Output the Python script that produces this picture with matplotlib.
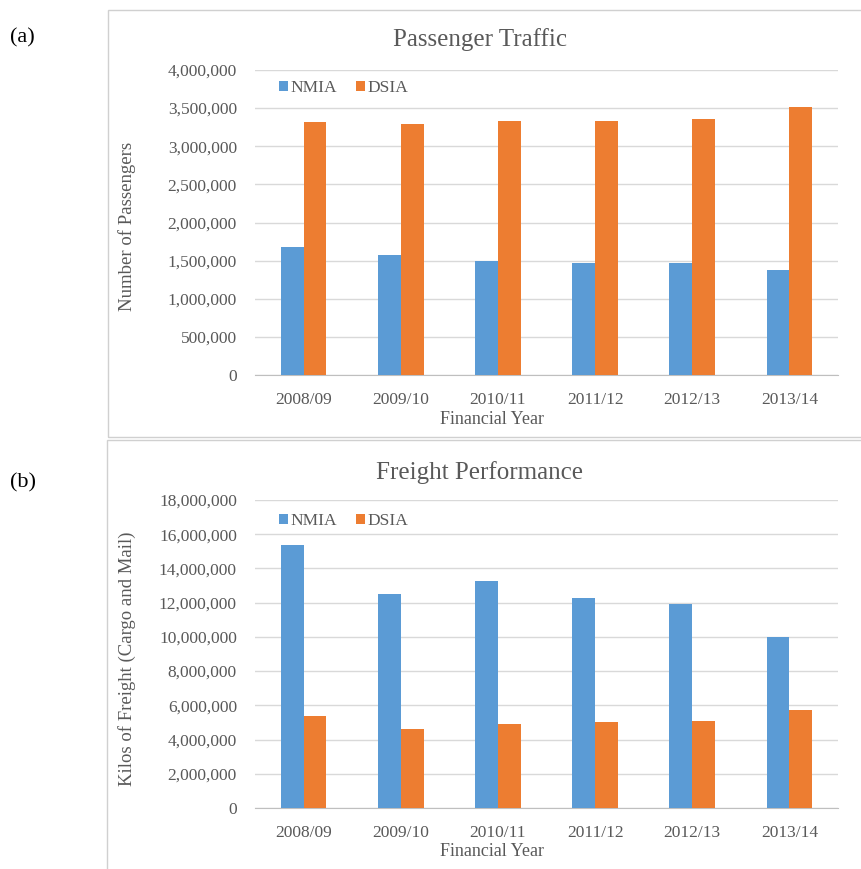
import numpy as np
import matplotlib
matplotlib.use("Agg")
import matplotlib.pyplot as plt
from matplotlib.patches import Rectangle
from matplotlib.ticker import FuncFormatter

# data
years = ["2008/09", "2009/10", "2010/11", "2011/12", "2012/13", "2013/14"]
series = ["NMIA", "DSIA"]
pax_nmia = [1685000, 1572000, 1498000, 1468000, 1468000, 1372000]
pax_dsia = [3314000, 3288000, 3336000, 3336000, 3353000, 3518000]
frt_nmia = [15390000, 12480000, 13260000, 12270000, 11930000, 10020000]
frt_dsia = [5360000, 4600000, 4880000, 5030000, 5110000, 5730000]

BLUE = "#5B9BD5"
ORANGE = "#ED7D31"
TXT = "#595959"
GRID = "#D9D9D9"

plt.rcParams['font.family'] = ['Liberation Serif', 'DejaVu Serif']

W, H = 862, 869
fig = plt.figure(figsize=(W / 100, H / 100), dpi=100)

def fx(px):
    return px / W

def fy(py):
    return 1 - py / H

# panel frames (right edge runs off the picture)
fig.patches.append(Rectangle((fx(108), fy(437)), fx(800), fy(10) - fy(437),
                             transform=fig.transFigure, fill=False,
                             edgecolor="#D0D0D0", lw=1.0))
fig.patches.append(Rectangle((fx(107), fy(880)), fx(800), fy(440) - fy(880),
                             transform=fig.transFigure, fill=False,
                             edgecolor="#D0D0D0", lw=1.0))

def panel(rect, nmia, dsia, ymax, ystep, title, ylabel, title_y, xl_y, leg_y, tag, tag_y):
    ax = fig.add_axes(rect)
    x = np.arange(len(years))
    w = 0.235
    ax.bar(x - w / 2, nmia, w, color=BLUE, label=series[0], zorder=3)
    ax.bar(x + w / 2, dsia, w, color=ORANGE, label=series[1], zorder=3)
    ax.set_xlim(-0.5, len(years) - 0.5)
    ax.set_ylim(0, ymax)
    ax.set_yticks(np.arange(0, ymax + 1, ystep))
    ax.yaxis.set_major_formatter(FuncFormatter(lambda v, p: f"{int(v):,}"))
    ax.set_xticks(x)
    ax.set_xticklabels(years)
    ax.grid(axis="y", color=GRID, lw=1.0, zorder=0)
    for s in ["top", "right", "left"]:
        ax.spines[s].set_visible(False)
    ax.spines["bottom"].set_color("#BFBFBF")
    ax.tick_params(axis="both", length=0, labelsize=12.5, colors=TXT, pad=13)
    ax.tick_params(axis="x", pad=12)
    fig.text(fx(480), fy(title_y), title, ha="center", va="center",
             fontsize=18, color=TXT)
    fig.text(fx(127), rect[1] + rect[3] / 2 - 0.005, ylabel, rotation=90,
             ha="center", va="center", fontsize=13.5, color=TXT)
    fig.text(fx(492), fy(xl_y), "Financial Year", ha="center", va="center",
             fontsize=13, color=TXT)
    fig.text(fx(10), fy(tag_y), tag, ha="left", va="center", fontsize=16,
             color="black")
    ax.legend(loc="center left", bbox_to_anchor=(fx(279), fy(leg_y)),
              bbox_transform=fig.transFigure, ncol=2, frameon=False,
              fontsize=12.5, handlelength=0.5, handleheight=0.5,
              handletextpad=0.15, columnspacing=1.1, labelcolor=TXT,
              borderaxespad=0, borderpad=0)
    return ax

panel([fx(255), fy(375), fx(838) - fx(255), fy(70) - fy(375)],
      pax_nmia, pax_dsia, 4000000, 500000, "Passenger Traffic",
      "Number of Passengers", 40, 420, 88, "(a)", 38)
panel([fx(255), fy(808), fx(838) - fx(255), fy(500) - fy(808)],
      frt_nmia, frt_dsia, 18000000, 2000000, "Freight Performance",
      "Kilos of Freight (Cargo and Mail)", 473, 852, 521, "(b)", 483)

fig.savefig("out.png", dpi=100)
